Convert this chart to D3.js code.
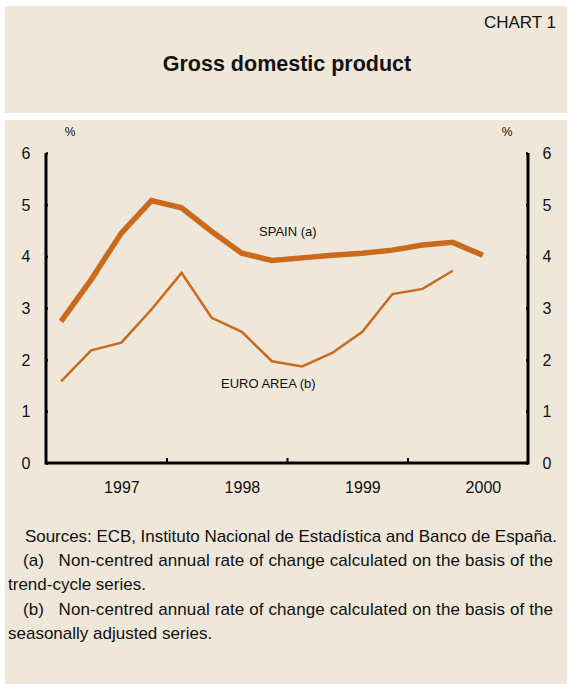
<!DOCTYPE html>
<html>
<head>
<meta charset="utf-8">
<script src="https://cdn.jsdelivr.net/npm/d3@7"></script>
<style>
  body { margin: 0; background: #fff; }
  text { font-family: "Liberation Sans", Arial, sans-serif; fill: #111; }
</style>
</head>
<body>
<script>
// quarterly data, 1997 Q1 onwards
const quarters = d3.range(1997, 2001, 0.25).map(d => d + 0.125);
const spain = [2.74, 3.55, 4.45, 5.08, 4.94, 4.48, 4.06, 3.92, 3.97, 4.02, 4.06, 4.12, 4.22, 4.27, 4.02];
const euroArea = [1.58, 2.18, 2.33, 2.97, 3.68, 2.81, 2.54, 1.97, 1.87, 2.13, 2.54, 3.27, 3.37, 3.72];
const years = [1997, 1998, 1999, 2000];
const yTicks = [0, 1, 2, 3, 4, 5, 6];

const width = 567, height = 684;
const bg = "#efe7da";
const orange = "#c96a1c";

const svg = d3.select("body")
    .append("svg")
    .attr("width", width)
    .attr("height", height);

// panels
svg.append("rect").attr("x", 5).attr("y", 6).attr("width", width - 5).attr("height", 107).attr("fill", bg);
svg.append("rect").attr("x", 5).attr("y", 120).attr("width", width - 5).attr("height", height - 120).attr("fill", bg);

svg.append("text")
    .attr("x", 556).attr("y", 28)
    .style("text-anchor", "end")
    .style("font-size", "17px")
    .text("CHART 1");

svg.append("text")
    .attr("x", 287).attr("y", 71)
    .style("text-anchor", "middle")
    .style("font-size", "21.5px")
    .style("font-weight", "bold")
    .text("Gross domestic product");

const x = d3.scaleLinear().domain([1997, 2001]).range([46, 528]);
const y = d3.scaleLinear().domain([0, 6]).range([463, 153]);

const g = svg.append("g");

// axes
g.append("g")
    .attr("transform", "translate(" + x(1997) + ",0)")
    .call(d3.axisRight(y).tickValues(yTicks).tickSize(2).tickFormat(""))
    .call(a => a.select(".domain").remove())
    .call(a => a.selectAll("line").attr("stroke", "#000").attr("stroke-width", 2.5));

g.append("g")
    .attr("transform", "translate(" + x(2001) + ",0)")
    .call(d3.axisLeft(y).tickValues(yTicks).tickSize(2).tickFormat(""))
    .call(a => a.select(".domain").remove())
    .call(a => a.selectAll("line").attr("stroke", "#000").attr("stroke-width", 2.5));

g.append("g")
    .attr("transform", "translate(0," + y(0) + ")")
    .call(d3.axisTop(x).tickValues([1998, 1999, 2000]).tickSize(5).tickFormat(""))
    .call(a => a.select(".domain").remove())
    .call(a => a.selectAll("line").attr("stroke", "#000").attr("stroke-width", 2));

g.append("path")
    .attr("d", d3.line()([[x(1997), y(6)], [x(1997), y(0)], [x(2001), y(0)], [x(2001), y(6)]]))
    .attr("fill", "none")
    .attr("stroke", "#000")
    .attr("stroke-width", 3);

// tick labels
g.selectAll(".yl").data(yTicks).enter().append("text")
    .attr("x", 26).attr("y", d => y(d) + 6)
    .style("text-anchor", "middle").style("font-size", "16px")
    .text(d => d);
g.selectAll(".yr").data(yTicks).enter().append("text")
    .attr("x", 547).attr("y", d => y(d) + 6)
    .style("text-anchor", "middle").style("font-size", "16px")
    .text(d => d);
g.selectAll(".xl").data(years).enter().append("text")
    .attr("x", d => x(d + 0.63)).attr("y", 493)
    .style("text-anchor", "middle").style("font-size", "16px")
    .text(d => d);

svg.append("text").attr("x", 70).attr("y", 136).style("text-anchor", "middle").style("font-size", "12px").text("%");
svg.append("text").attr("x", 507).attr("y", 136).style("text-anchor", "middle").style("font-size", "12px").text("%");

// series
const line = d3.line().x((d, i) => x(quarters[i])).y(d => y(d));

g.append("path")
    .attr("d", line(euroArea))
    .attr("fill", "none")
    .attr("stroke", orange)
    .attr("stroke-width", 2.5);

g.append("path")
    .attr("d", line(spain))
    .attr("fill", "none")
    .attr("stroke", orange)
    .attr("stroke-width", 5.5);

svg.append("text").attr("x", 259).attr("y", 236).style("font-size", "13px").text("SPAIN (a)");
svg.append("text").attr("x", 221).attr("y", 388).style("font-size", "13px").text("EURO AREA (b)");

// footnotes
const notes = [
    { x: 25, y: 542, t: "Sources: ECB, Instituto Nacional de Estadística and Banco de España.", w: 532 },
    { x: 23, y: 566, t: "(a)\u00a0\u00a0\u00a0Non-centred annual rate of change calculated on the basis of the", w: 530 },
    { x: 8, y: 590, t: "trend-cycle series.", w: null },
    { x: 23, y: 615, t: "(b)\u00a0\u00a0\u00a0Non-centred annual rate of change calculated on the basis of the", w: 530 },
    { x: 8, y: 639, t: "seasonally adjusted series.", w: null }
];
notes.forEach(n => {
    const t = svg.append("text")
        .attr("x", n.x).attr("y", n.y)
        .style("font-size", "17px")
        .text(n.t);
    if (n.w) t.attr("textLength", n.w).attr("lengthAdjust", "spacing");
});
</script>
</body>
</html>
